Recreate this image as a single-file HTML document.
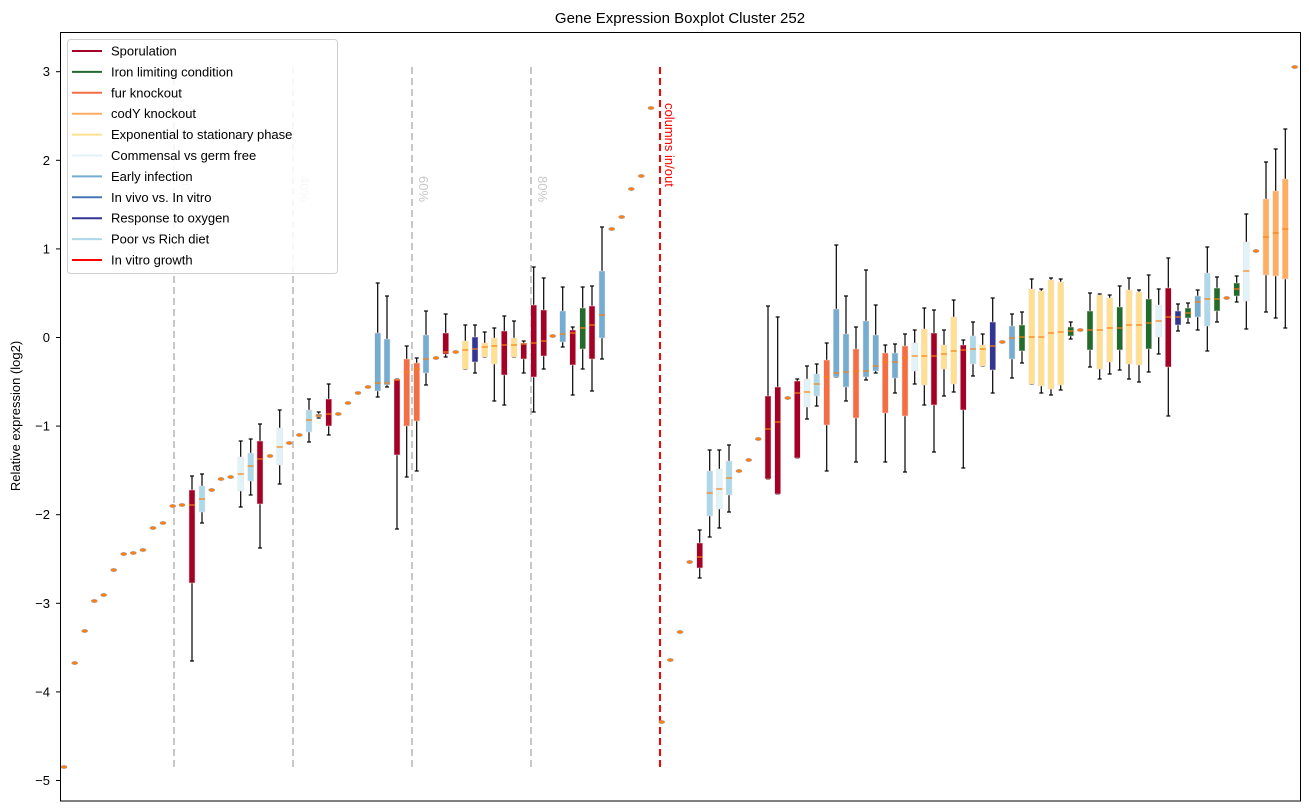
<!DOCTYPE html>
<html><head><meta charset="utf-8"><style>
html,body{margin:0;padding:0;background:#fff;}
svg{display:block;font-family:"Liberation Sans","DejaVu Sans",sans-serif;}
</style></head><body>
<svg id="s" width="1309" height="812" viewBox="0 0 1309 812" xmlns="http://www.w3.org/2000/svg">
<rect x="0" y="0" width="1309" height="812" fill="#fff"/>
<text x="680" y="23" font-size="15" text-anchor="middle" fill="#000">Gene Expression Boxplot Cluster 252</text>
<text transform="translate(20,416) rotate(-90)" font-size="13" text-anchor="middle">Relative expression (log2)</text>
<g id="ticks" font-size="13" fill="#000" text-anchor="end"></g>
<g id="guides"></g>
<g id="plot"></g>
<rect x="60.5" y="32.5" width="1240" height="768.5" fill="none" stroke="#000" stroke-width="1"/>
<g id="legend"></g>
</svg>
<script>
var NS="http://www.w3.org/2000/svg";
function el(p,t,a,txt){var e=document.createElementNS(NS,t);for(var k in a)e.setAttribute(k,a[k]);if(txt!==undefined)e.textContent=txt;document.getElementById(p).appendChild(e);return e;}
// y ticks
var tv=[3,2,1,0,-1,-2,-3,-4,-5];
tv.forEach(function(v){var y=337.5-88.6*v;el('ticks','line',{x1:56,x2:60,y1:y,y2:y,stroke:'#000'});el('ticks','text',{x:50,y:y+4.5},(v<0?'\u2212':'')+Math.abs(v));});
// guides
[174,293,412,531].forEach(function(x){el('guides','line',{x1:x,x2:x,y1:67,y2:767,stroke:'#c8c8c8','stroke-width':2,'stroke-dasharray':'7,4'});});
[[300,'40%'],[419,'60%'],[538,'80%'],[181,'20%']].forEach(function(a){el('guides','text',{transform:'translate('+a[0]+',176) rotate(90)','font-size':13,fill:'#c8c8c8'},a[1]);});
el('guides','line',{x1:660,x2:660,y1:67,y2:767,stroke:'#ff0000','stroke-width':2,'stroke-dasharray':'7,4'});
el('guides','text',{transform:'translate(665,103) rotate(90)','font-size':13,fill:'#ff0000'},'columns in/out');
var C={R:'#a50026',G:'#236b2c',F:'#f46d43',Y:'#fdae61',E:'#fee090',V:'#e0f3f8',B:'#74add1',N:'#313695',P:'#abd9e9',K:'#888'};
// dots
var dots=[[64,767],[74.7,663],[84.7,631],[94.3,601],[103.7,595],[113.7,570],[123.7,554],[133.3,553],[143,550],[153,528],[163,523],[172.7,506],[182,505],[211.7,490],[221,479],[230.7,477],[270,456],[289.3,443],[299.3,435],[338.3,414],[348,403],[358,393],[368,387],[436,358],[455.7,352],[552.7,336],[611.7,229],[621.7,217],[631.3,189],[641.3,176],[651,108],[661.7,722],[670.3,660],[680,632],[689.7,562],[739,471],[748.7,460],[758.3,439],[787.7,398],[1002.3,342],[1080.3,330],[1226.7,298],[1256,251],[1294.7,67]];
dots.forEach(function(d){el('plot','ellipse',{cx:d[0],cy:d[1],rx:3,ry:1.6,fill:'#ff7f0e',stroke:'#a99',"stroke-width":0.6});});
// boxes: x,color,wt,bt,med,bb,wb
var B=[[192,'R',476,490,505,583,661],[202,'P',474,486,499,512,523],[240.7,'V',441,457,474,491,507],[250.7,'P',439,453,466,481,495],[260,'R',424,441,459,504,548],[279.7,'V',410,428,447,465,484],[309,'P',399,410,420,432,442],[318.7,'K',412,414,416,417,418],[328.7,'R',384,399,414,426,435],
[377.7,'B',283,333,383,391,397],[387,'B',296,339,383,385,387],[397,'R',379,379,380,455,529],[406.7,'F',346,359,372,426,477],[416.7,'F',358,363,369,421,471],[426,'B',311,335,359,373,385],[445.7,'R',314,333,352,354,357],[465.3,'E',325,341,350,369,369],[475,'N',325,337,349,362,373],[484.7,'E',332,343,347,357,357],[494.3,'E',328,338,346,364,401],[504.3,'R',316,331,345,375,405],[514,'E',321,338,345,357,357],[523.7,'R',341,343,344,359,373],[533.7,'R',267,305,343,377,412],[543.7,'R',278,310,341,356,369],[562.7,'B',287,311,334,342,347],[572.7,'R',327,330,333,365,395],[582.7,'G',287,308,328,349,369],[592,'R',286,306,325,359,391],[602,'B',227,271,315,338,359],
[699.7,'R',530,543,557,568,578],[709.7,'P',450,471,493,516,537],[719.3,'V',450,469,489,509,528],[729,'P',445,461,478,495,512],[768,'R',306,396,429,479,479],[777.7,'R',317,387,422,494,494],[797.3,'R',379,381,393,458,458],[807,'V',366,379,392,407,419],[816.7,'P',364,374,384,396,406],[826.7,'F',343,360,377,425,471],[836.3,'B',245,309,373,377,377],[846,'B',296,334,372,387,401],[856,'F',327,349,371,418,462],[866,'B',270,321,371,377,380],[875.7,'B',305,335,366,371,373],[885.3,'F',345,353,362,413,462],[895,'B',344,353,362,378,393],[905,'F',334,346,358,416,472],[914.7,'V',330,343,356,371,384],[924.3,'E',308,329,356,385,405],[934,'R',310,333,356,405,452],[944,'E',330,345,354,369,396],[953.7,'E',300,317,351,384,392],[963.3,'R',340,345,350,410,468],[973,'P',322,336,349,364,376],[982.7,'E',334,345,349,366,366],
[992.7,'N',298,322,346,370,393],[1012,'B',314,326,338,359,378],[1022,'G',312,325,337,351,363],[1031.7,'E',279,289,337,384,384],[1041.3,'E',289,291,337,386,393],[1051,'E',278,280,333,389,395],[1060.7,'E',279,282,332,385,390],[1070.7,'G',322,327,331,336,339],[1090,'G',293,311,330,350,367],[1099.7,'E',294,295,330,369,379],[1109.7,'E',295,298,328,362,374],[1119.7,'G',286,307,328,350,370],[1129,'E',278,290,325,364,379],[1139,'E',290,292,325,365,382],[1148.7,'G',275,299,323,349,372],[1158.7,'V',289,305,321,337,354],[1168.3,'R',258,288,317,367,416],[1178,'N',304,311,317,325,331],[1188,'G',303,308,313,318,323],[1197.7,'B',290,296,302,317,330],[1207.3,'P',247,273,299,326,351],[1217,'G',277,288,299,311,322],[1236.7,'G',276,283,289,296,302],[1246.3,'V',214,242,271,301,329],[1266,'Y',162,199,237,275,312],[1275.7,'Y',149,191,233,276,318],[1285.3,'Y',129,179,229,279,328]];
B.forEach(function(b){var x=b[0],w=6;
el('plot','line',{x1:x,x2:x,y1:b[2],y2:b[6],stroke:'#000','stroke-width':1.2});
el('plot','line',{x1:x-2,x2:x+2,y1:b[2],y2:b[2],stroke:'#000','stroke-width':1.2});
el('plot','line',{x1:x-2,x2:x+2,y1:b[6],y2:b[6],stroke:'#000','stroke-width':1.2});
el('plot','rect',{x:x-w/2,y:b[3],width:w,height:Math.max(b[5]-b[3],1.5),fill:C[b[1]],stroke:'#f0e0e0','stroke-width':0.5});
el('plot','line',{x1:x-w/2,x2:x+w/2,y1:b[4],y2:b[4],stroke:'#ff7f0e','stroke-width':1.2});});
// legend
el('legend','rect',{x:67.5,y:39.5,width:270,height:234,rx:3,fill:'#fff','fill-opacity':0.85,stroke:'#d0d0d0'});
var L=[['Sporulation',C.R],['Iron limiting condition',C.G],['fur knockout',C.F],['codY knockout',C.Y],['Exponential to stationary phase',C.E],['Commensal vs germ free',C.V],['Early infection',C.B],['In vivo vs. In vitro','#4575b4'],['Response to oxygen',C.N],['Poor vs Rich diet',C.P],['In vitro growth','#ff0000']];
L.forEach(function(l,i){var y=51+20.9*i;el('legend','line',{x1:72,x2:102,y1:y,y2:y,stroke:l[1],'stroke-width':2});el('legend','text',{x:111,y:y+4.5,'font-size':13,fill:'#000'},l[0]);});
</script>
</body></html>
